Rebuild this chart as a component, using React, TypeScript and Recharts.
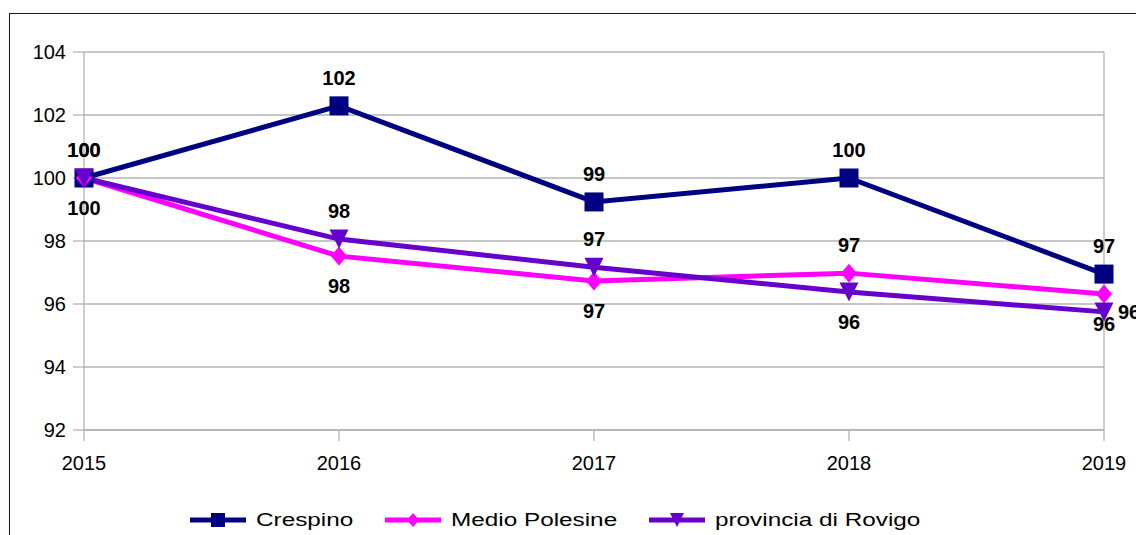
// Indice popolazione — Crespino vs Medio Polesine vs provincia di Rovigo
import { LineChart, Line, XAxis, YAxis, CartesianGrid, LabelList, ReferenceLine } from 'recharts';

const years = ['2015', '2016', '2017', '2018', '2019'];
const crespino = [100, 102.29, 99.24, 100, 96.95];
const medioPolesine = [100, 97.52, 96.73, 96.98, 96.32];
const provinciaRovigo = [100, 98.06, 97.17, 96.38, 95.75];
const yTicks = [92, 94, 96, 98, 100, 102, 104];

// where each point's value label sits
const crespinoLabels = ['top', 'top', 'top', 'top', 'top'];
const medioLabels = ['bottom', 'bottom', 'bottom', 'top', 'bottom'];
const provinciaLabels = ['top', 'top', 'top', 'bottom', 'right'];

const FONT = '"Liberation Sans", Arial, sans-serif';
const GRID = '#b3b3b3';

const data = years.map((year, i) => ({
  year,
  crespino: crespino[i],
  medio: medioPolesine[i],
  provincia: provinciaRovigo[i],
}));

type Shape = 'square' | 'diamond' | 'triangle';

const series: { key: string; name: string; color: string; shape: Shape; labels: string[] }[] = [
  { key: 'crespino', name: 'Crespino', color: '#000080', shape: 'square', labels: crespinoLabels },
  { key: 'medio', name: 'Medio Polesine', color: '#ff00ff', shape: 'diamond', labels: medioLabels },
  { key: 'provincia', name: 'provincia di Rovigo', color: '#6600cc', shape: 'triangle', labels: provinciaLabels },
];

function Marker({ cx, cy, shape, color, size }: { cx: number; cy: number; shape: Shape; color: string; size: number }) {
  const h = size / 2;
  if (shape === 'square') return <rect x={cx - h} y={cy - h} width={size} height={size} fill={color} />;
  if (shape === 'diamond')
    return <polygon points={`${cx},${cy - h} ${cx + h * 0.85},${cy} ${cx},${cy + h} ${cx - h * 0.85},${cy}`} fill={color} />;
  return <polygon points={`${cx - h},${cy - h} ${cx + h},${cy - h} ${cx},${cy + h}`} fill={color} />;
}

function makeLabel(positions: string[]) {
  // eslint-disable-next-line @typescript-eslint/no-explicit-any
  return (props: any) => {
    const { x, y, value, index } = props;
    const pos = positions[index];
    let tx = x;
    let ty = y;
    let anchor: 'middle' | 'start' = 'middle';
    if (pos === 'top') ty = y - 28;
    else if (pos === 'bottom') ty = y + 30;
    else if (pos === 'right') {
      tx = x + 14;
      anchor = 'start';
    }
    return (
      <text x={tx} y={ty} textAnchor={anchor} dominantBaseline="central"
        fontFamily={FONT} fontSize={20} fontWeight="bold" fill="#000">
        {Math.round(value)}
      </text>
    );
  };
}

let measureCtx: CanvasRenderingContext2D | null = null;
function textWidth(s: string, font: string) {
  if (!measureCtx) measureCtx = document.createElement('canvas').getContext('2d');
  if (!measureCtx) return s.length * 10;
  measureCtx.font = font;
  return measureCtx.measureText(s).width;
}

const LEGEND_SIZE = 18;
const LEGEND_STRETCH = 1.35;

function LegendRow() {
  return (
    <div style={{ position: 'absolute', left: 190, top: 510, display: 'flex', alignItems: 'center', height: 20 }}>
      {series.map(s => {
        const w = textWidth(s.name, `${LEGEND_SIZE}px ${FONT}`);
        return (
          <div key={s.key} style={{ display: 'flex', alignItems: 'center', marginRight: 32 }}>
            <svg width={56} height={20} style={{ display: 'block' }}>
              <line x1={0} y1={10} x2={56} y2={10} stroke={s.color} strokeWidth={5} />
              <Marker cx={28} cy={10} shape={s.shape} color={s.color} size={14} />
            </svg>
            <span style={{ display: 'inline-block', width: w * LEGEND_STRETCH, marginLeft: 10, height: 20, position: 'relative' }}>
              <span style={{
                position: 'absolute', left: 0, top: 0, whiteSpace: 'nowrap',
                fontFamily: FONT, fontSize: LEGEND_SIZE, lineHeight: '20px', color: '#000',
                transform: `scaleX(${LEGEND_STRETCH})`, transformOrigin: 'left center',
              }}>{s.name}</span>
            </span>
          </div>
        );
      })}
    </div>
  );
}

export default function App() {
  const tick = { fontFamily: FONT, fontSize: 20, fill: '#000' };
  return (
    <div style={{ position: 'fixed', left: 0, top: 0, width: 1136, height: 535, overflow: 'hidden', background: '#fff' }}>
      <div style={{ position: 'absolute', left: 9, top: 13, width: 1300, height: 700, border: '1px solid #0000d0', boxSizing: 'border-box' }} />
      <div style={{ position: 'absolute', left: 0, top: 0 }}>
        <LineChart width={1136} height={535} data={data} margin={{ top: 52, right: 32, left: 0, bottom: 65 }}>
          <CartesianGrid vertical={false} stroke={GRID} strokeWidth={1.3} />
          <XAxis dataKey="year" padding={{ left: 0, right: 0 }} height={40}
            axisLine={{ stroke: GRID, strokeWidth: 1.3 }} tickLine={{ stroke: GRID, strokeWidth: 1.3 }}
            tickSize={11} tickMargin={15} tick={tick} interval={0} />
          <YAxis domain={[92, 104]} ticks={yTicks} width={84} interval={0}
            axisLine={{ stroke: GRID, strokeWidth: 1.3 }} tickLine={{ stroke: GRID, strokeWidth: 1.3 }}
            tickSize={11} tickMargin={7} tick={tick} />
          <ReferenceLine x="2019" stroke={GRID} strokeWidth={1.3} />
          {series.map(s => (
            <Line key={s.key} dataKey={s.key} name={s.name} type="linear" stroke={s.color} strokeWidth={5}
              isAnimationActive={false} activeDot={false}
              // eslint-disable-next-line @typescript-eslint/no-explicit-any
              dot={(p: any) => <Marker key={`${s.key}-${p.index}`} cx={p.cx} cy={p.cy} shape={s.shape} color={s.color} size={19} />}>
              <LabelList dataKey={s.key} content={makeLabel(s.labels)} />
            </Line>
          ))}
        </LineChart>
      </div>
      <LegendRow />
    </div>
  );
}
